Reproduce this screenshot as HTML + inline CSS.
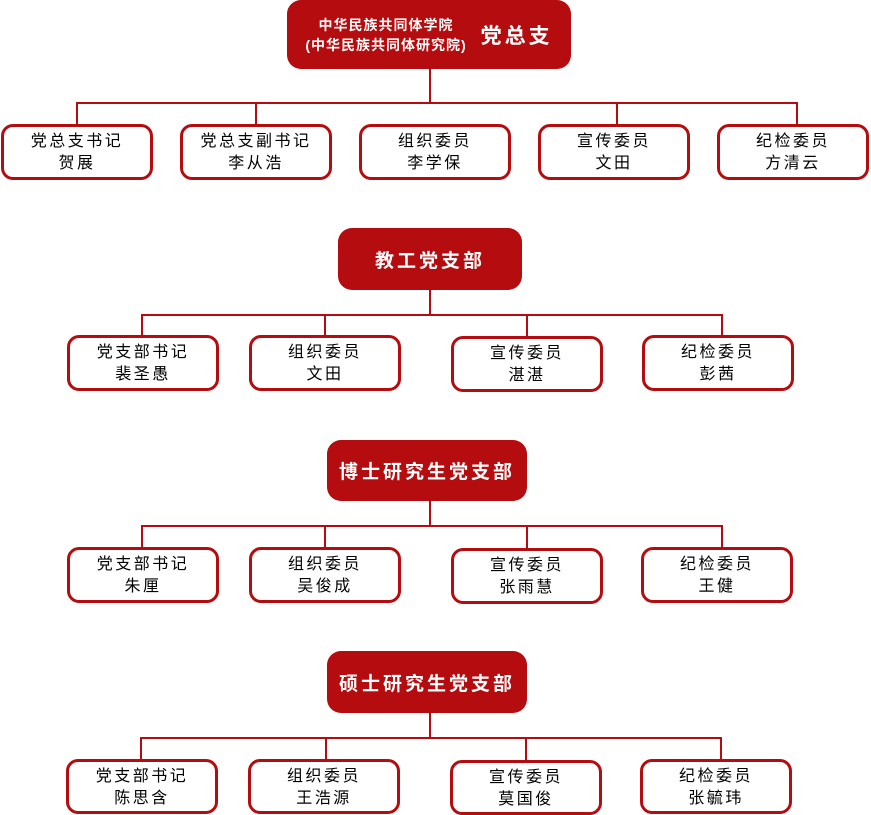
<!DOCTYPE html>
<html><head><meta charset="utf-8"><style>
*{margin:0;padding:0;box-sizing:border-box}
body{width:871px;height:815px;background:#fff;position:relative;overflow:hidden;font-family:"Liberation Sans","Noto Sans CJK SC",sans-serif}
.h{position:absolute;background:#b40c0f;color:#fff;border-radius:14px;display:flex;align-items:center;justify-content:center;font-weight:bold;font-size:19px;letter-spacing:3px}
.c{position:absolute;border:3px solid #b40c0f;border-radius:12px;background:#fff;color:#000;text-align:center;font-size:16px;line-height:22px;letter-spacing:2.5px;padding-top:4px}
.l{position:absolute;background:#b40c0f}
</style></head><body>
<div class="h" style="left:287px;top:0;width:284px;height:69px">
<div style="font-size:14px;line-height:20px;letter-spacing:1px;text-align:center;margin-right:14px">中华民族共同体学院<br>(中华民族共同体研究院)</div><div style="font-size:21px">党总支</div></div>
<div class="l" style="left:429px;top:69px;width:2px;height:35px"></div>
<div class="l" style="left:76px;top:102px;width:722px;height:2px"></div>
<div class="l" style="left:76px;top:102px;width:2px;height:24px"></div>
<div class="l" style="left:255px;top:102px;width:2px;height:24px"></div>
<div class="l" style="left:616px;top:102px;width:2px;height:24px"></div>
<div class="l" style="left:796px;top:102px;width:2px;height:24px"></div>
<div class="c" style="left:1px;top:124px;width:152px;height:56px">党总支书记<br>贺展</div>
<div class="c" style="left:180px;top:124px;width:152px;height:56px">党总支副书记<br>李从浩</div>
<div class="c" style="left:359px;top:124px;width:152px;height:56px">组织委员<br>李学保</div>
<div class="c" style="left:538px;top:124px;width:152px;height:56px">宣传委员<br>文田</div>
<div class="c" style="left:717px;top:124px;width:152px;height:56px">纪检委员<br>方清云</div>

<div class="h" style="left:338px;top:228px;width:184px;height:62px">教工党支部</div>
<div class="l" style="left:429px;top:290px;width:2px;height:25px"></div>
<div class="l" style="left:141px;top:314px;width:582px;height:2px"></div>
<div class="l" style="left:141px;top:314px;width:2px;height:23px"></div>
<div class="l" style="left:324px;top:314px;width:2px;height:23px"></div>
<div class="l" style="left:526px;top:314px;width:2px;height:23px"></div>
<div class="l" style="left:721px;top:314px;width:2px;height:23px"></div>
<div class="c" style="left:67px;top:335px;width:152px;height:56px">党支部书记<br>裴圣愚</div>
<div class="c" style="left:249px;top:335px;width:152px;height:56px">组织委员<br>文田</div>
<div class="c" style="left:451px;top:336px;width:152px;height:56px">宣传委员<br>湛湛</div>
<div class="c" style="left:642px;top:335px;width:152px;height:56px">纪检委员<br>彭茜</div>

<div class="h" style="left:327px;top:440px;width:200px;height:61px">博士研究生党支部</div>
<div class="l" style="left:429px;top:501px;width:2px;height:25px"></div>
<div class="l" style="left:141px;top:525px;width:582px;height:2px"></div>
<div class="l" style="left:141px;top:525px;width:2px;height:23px"></div>
<div class="l" style="left:324px;top:525px;width:2px;height:23px"></div>
<div class="l" style="left:526px;top:525px;width:2px;height:23px"></div>
<div class="l" style="left:721px;top:525px;width:2px;height:23px"></div>
<div class="c" style="left:67px;top:547px;width:152px;height:56px">党支部书记<br>朱厘</div>
<div class="c" style="left:249px;top:547px;width:152px;height:56px">组织委员<br>吴俊成</div>
<div class="c" style="left:451px;top:548px;width:152px;height:56px">宣传委员<br>张雨慧</div>
<div class="c" style="left:641px;top:547px;width:152px;height:56px">纪检委员<br>王健</div>

<div class="h" style="left:327px;top:651px;width:200px;height:62px">硕士研究生党支部</div>
<div class="l" style="left:429px;top:713px;width:2px;height:25px"></div>
<div class="l" style="left:140px;top:737px;width:582px;height:2px"></div>
<div class="l" style="left:140px;top:737px;width:2px;height:23px"></div>
<div class="l" style="left:325px;top:737px;width:2px;height:23px"></div>
<div class="l" style="left:525px;top:737px;width:2px;height:23px"></div>
<div class="l" style="left:720px;top:737px;width:2px;height:23px"></div>
<div class="c" style="left:66px;top:759px;width:152px;height:55px">党支部书记<br>陈思含</div>
<div class="c" style="left:248px;top:759px;width:152px;height:55px">组织委员<br>王浩源</div>
<div class="c" style="left:450px;top:760px;width:152px;height:55px">宣传委员<br>莫国俊</div>
<div class="c" style="left:640px;top:759px;width:152px;height:55px">纪检委员<br>张毓玮</div>
</body></html>
